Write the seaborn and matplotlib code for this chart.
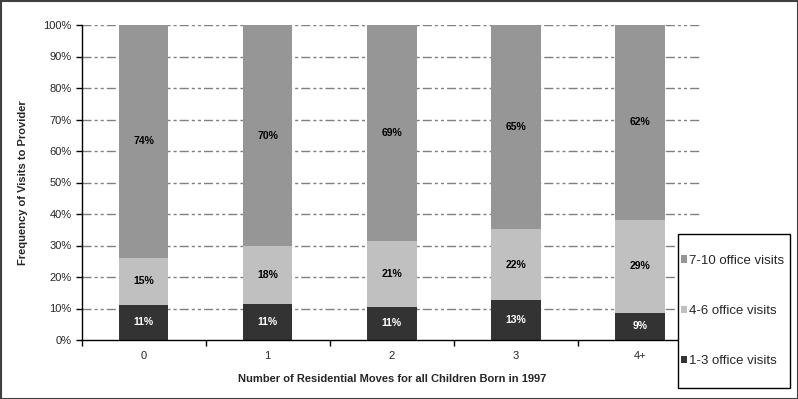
import numpy as np
import pandas as pd
import seaborn as sns
import matplotlib.pyplot as plt
from matplotlib.patches import Rectangle

# values (percent of children)
moves = ["0", "1", "2", "3", "4+"]
visits_1_3 = [11.2, 11.4, 10.6, 12.8, 8.7]
visits_4_6 = [14.9, 18.4, 20.8, 22.3, 29.4]
visits_7_10 = [73.9, 70.2, 68.6, 64.9, 61.9]

series = ["1-3 office visits", "4-6 office visits", "7-10 office visits"]
colors = {"1-3 office visits": "#333333",
          "4-6 office visits": "#c0c0c0",
          "7-10 office visits": "#969696"}
label_colors = {"1-3 office visits": "white",
                "4-6 office visits": "black",
                "7-10 office visits": "black"}

df = pd.DataFrame({"moves": moves,
                   "1-3 office visits": visits_1_3,
                   "4-6 office visits": visits_4_6,
                   "7-10 office visits": visits_7_10})

sns.set_theme(style="white")
plt.rcParams["font.family"] = ["Liberation Sans", "DejaVu Sans"]
plt.rcParams["lines.scale_dashes"] = False

W, H = 798, 399
fig = plt.figure(figsize=(W / 100, H / 100), dpi=100)
ax = fig.add_axes([81.5 / W, 1 - 340 / H, (702 - 81.5) / W, 315 / H])

bottom = np.zeros(len(moves))
handles = {}
for s in series:
    vals = df[s].to_numpy()
    bars = ax.bar(np.arange(len(moves)), vals, width=0.4, bottom=bottom,
                  color=colors[s], edgecolor="none", zorder=3)
    handles[s] = bars
    for i, v in enumerate(vals):
        ax.text(i, bottom[i] + v / 2, f"{v:.0f}%", ha="center", va="center",
                fontsize=7.5, fontweight="bold", color=label_colors[s], zorder=4)
    bottom += vals

ax.set_xlim(-0.5, len(moves) - 0.5)
ax.set_ylim(0, 100)
ax.set_yticks(np.arange(0, 101, 10))
ax.set_yticklabels([f"{t}%" for t in range(0, 101, 10)], fontsize=8)
ax.set_xticks(np.arange(len(moves)))
ax.set_xticklabels(moves, fontsize=8)
ax.set_xticks(np.arange(len(moves) + 1) - 0.5, minor=True)
ax.tick_params(axis="x", which="major", length=0, pad=8)
ax.tick_params(axis="x", which="minor", length=4, width=1, color="black",
               direction="out", bottom=True)
ax.tick_params(axis="y", length=4, width=1, color="black", direction="out",
               pad=3, left=True)

# dash-dot-dot gridlines
for y in range(10, 101, 10):
    ax.axhline(y, color="#808080", lw=1, dashes=(6.5, 2.2, 2.2, 2.2, 2.2, 2.2), zorder=1)

for side in ["top", "right"]:
    ax.spines[side].set_visible(False)
for side in ["left", "bottom"]:
    ax.spines[side].set_color("black")
    ax.spines[side].set_linewidth(1)
    ax.spines[side].set_zorder(5)

ax.set_xlabel("Number of Residential Moves for all Children Born in 1997",
              fontsize=8, fontweight="bold", labelpad=9)
ax.set_ylabel("Frequency of Visits to Provider", fontsize=8, fontweight="bold", labelpad=11)

# legend box drawn separately so the padding can match
fig.patches.append(Rectangle((678 / W, 1 - 388 / H), 112 / W, 154 / H,
                             transform=fig.transFigure, facecolor="white",
                             edgecolor="black", linewidth=1, zorder=2))
leg = fig.legend([handles[s] for s in reversed(series)], list(reversed(series)),
                 loc="center left", bbox_to_anchor=(681 / W, 1 - 311 / H),
                 fontsize=9.5, frameon=False,
                 handlelength=0.45, handleheight=0.45, handletextpad=0.15,
                 labelspacing=2.9, borderpad=0, borderaxespad=0)
leg.set_zorder(6)

fig.patches.append(Rectangle((0.5 / W, 0.5 / H), 797 / W, 398 / H,
                             transform=fig.transFigure, fill=False,
                             edgecolor="#404040", linewidth=1.5, zorder=7))

fig.savefig("out.png", dpi=100)
